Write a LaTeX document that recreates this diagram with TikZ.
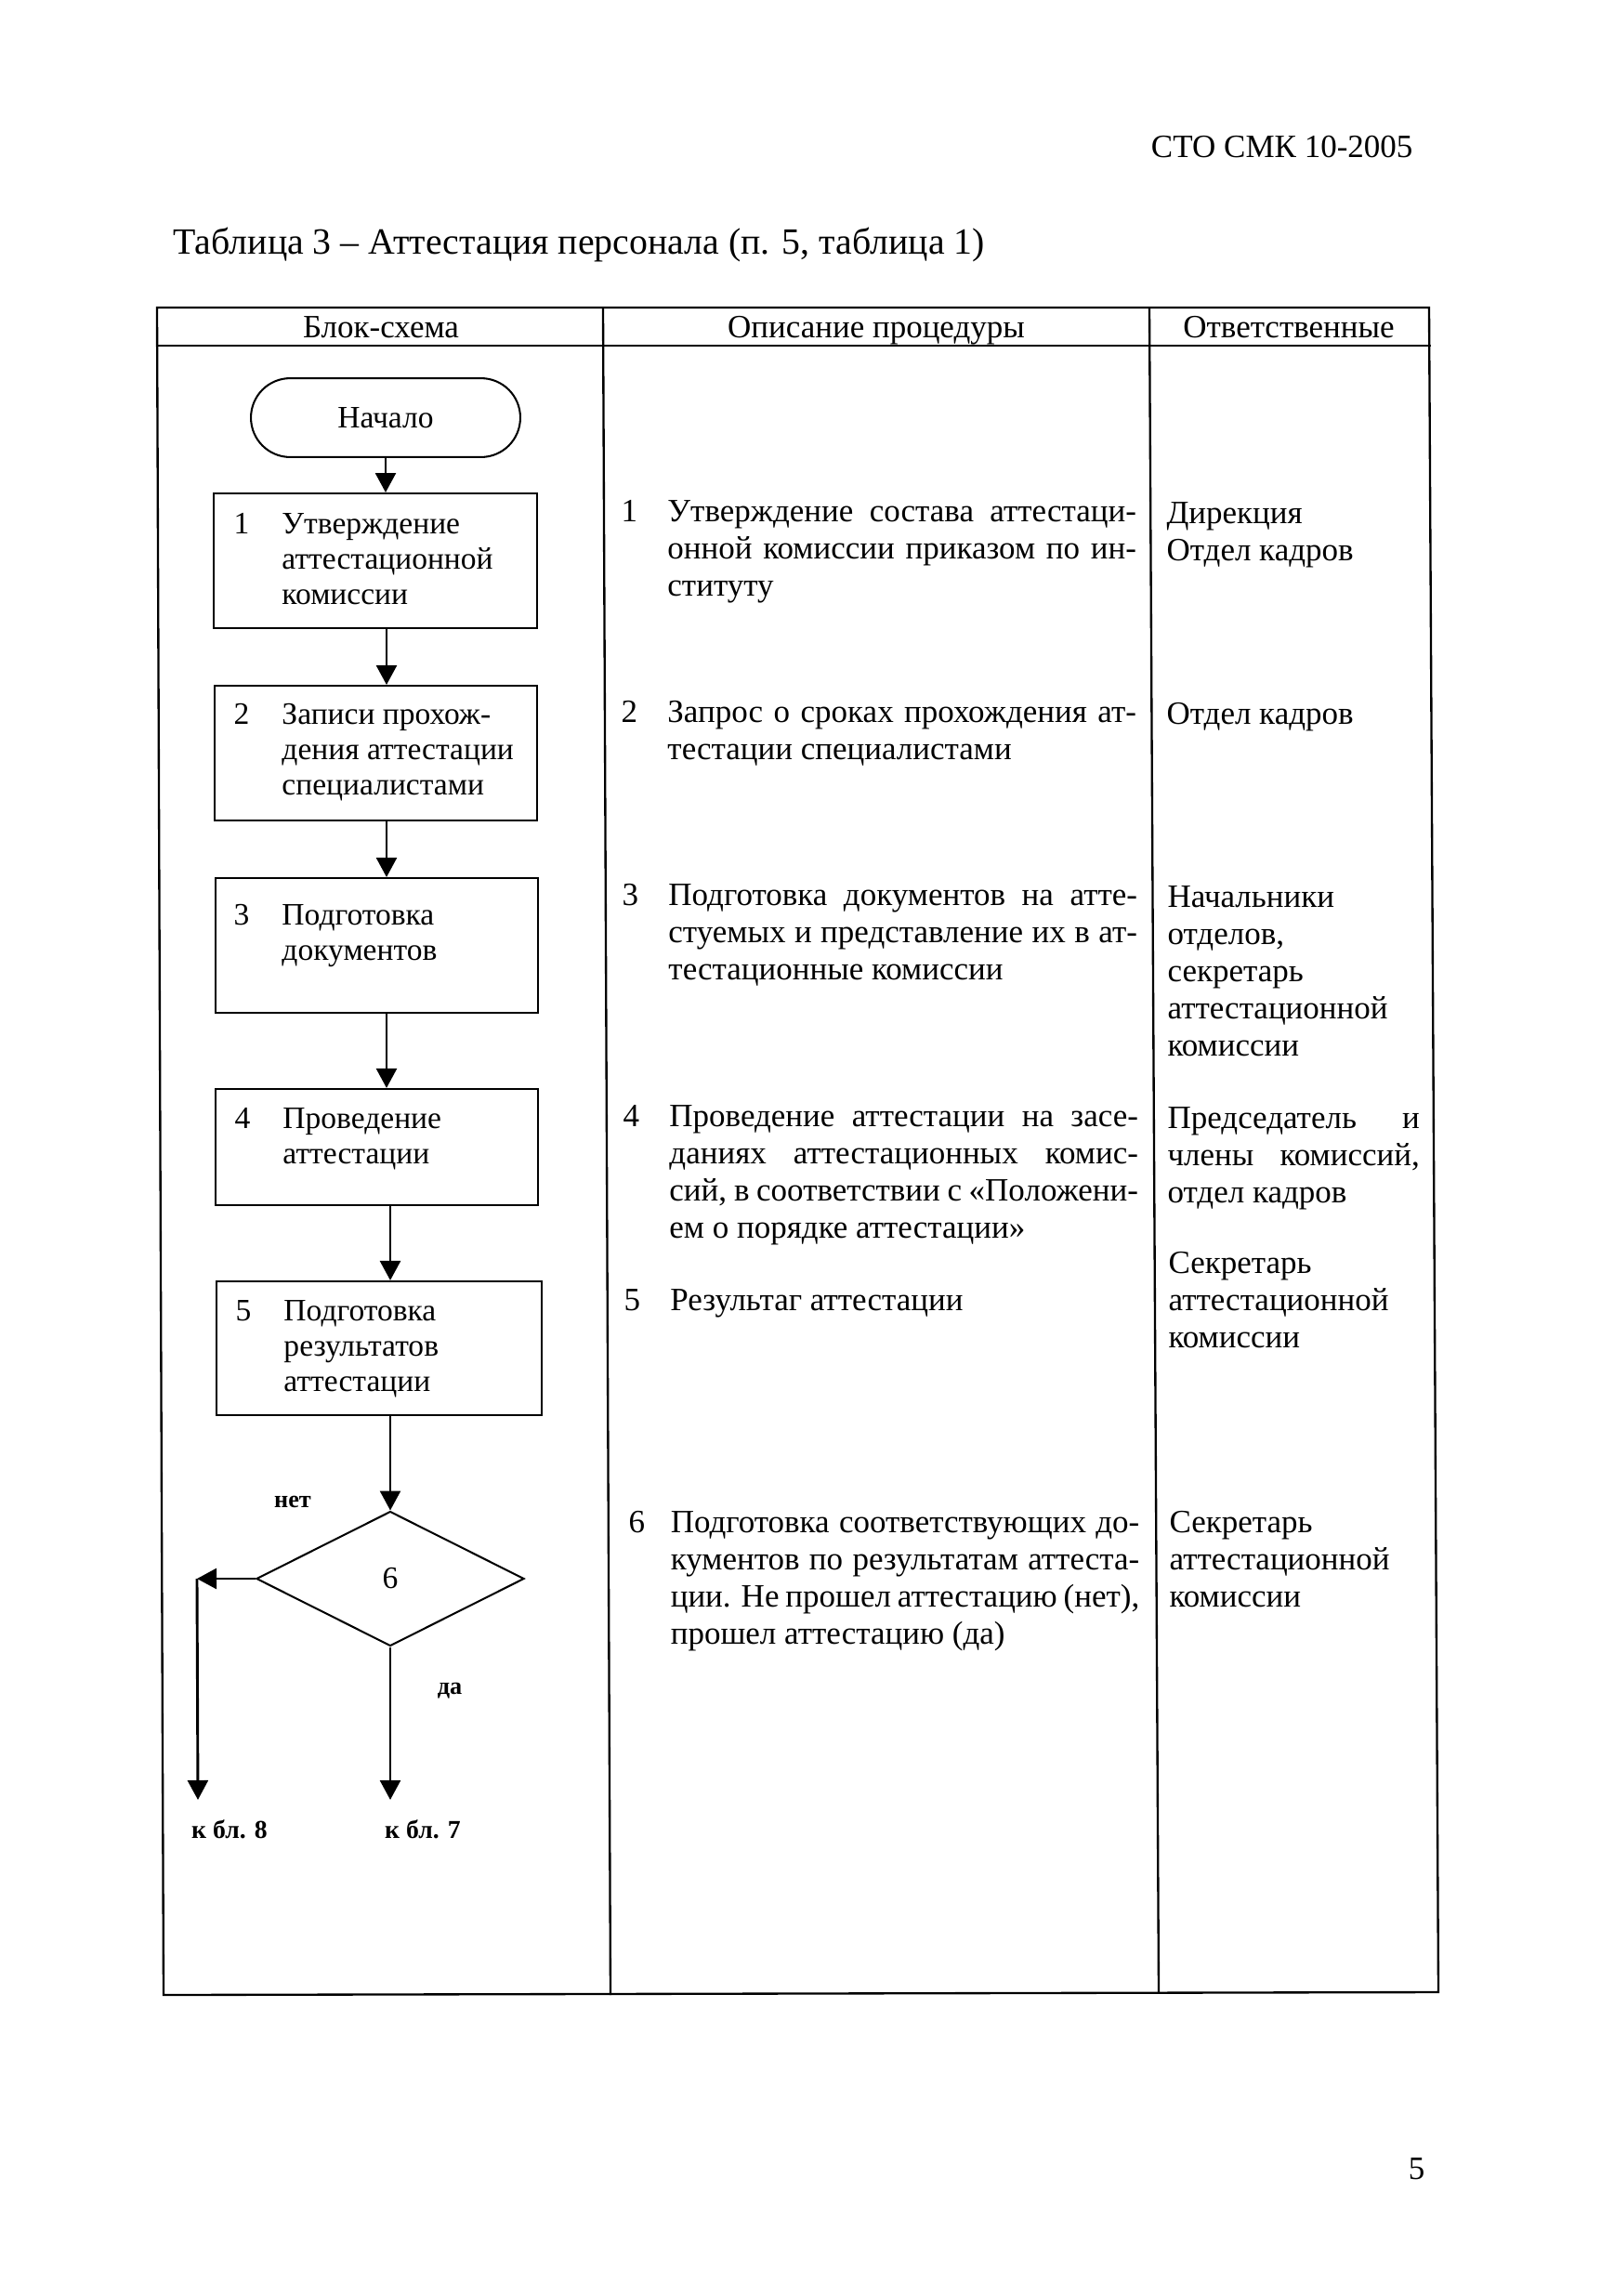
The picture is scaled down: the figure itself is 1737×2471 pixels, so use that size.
\documentclass[tikz,border=0pt]{standalone}
\usepackage{fontspec}
\setmainfont{Liberation Serif}
\usetikzlibrary{arrows.meta,shapes.geometric}
\newcommand\Jt[1]{\makebox[173pt][s]{#1}}
\newcommand\Jr[1]{\makebox[93pt][s]{#1}}
\begin{document}
\begin{tikzpicture}[x=0.3429pt,y=-0.3429pt,
  tbl/.style={line width=0.8pt},
  fbox/.style={draw,line width=0.7pt,inner sep=0,minimum width=119.3pt},
  arr/.style={line width=1pt,-{Triangle[width=7.5pt,length=7.2pt]}},
  ctext/.style={anchor=north west,inner sep=0,font=\fontsize{12}{13.7}\selectfont},
  btext/.style={anchor=north west,inner sep=0,font=\fontsize{11.5}{12.9}\selectfont},
  lbl/.style={inner sep=0,anchor=base,font=\bfseries\fontsize{9}{10}\selectfont},
  plain/.style={inner sep=0,anchor=base,font=\fontsize{12}{13.7}\selectfont}]

\fill[white] (0,0) rectangle (1737,2471);
\useasboundingbox (0,0) rectangle (1737,2471);

% page header and title
\node[plain,anchor=base east] (doc) at (1521,169) {СТО СМК 10-2005};
\node[inner sep=0,anchor=base west,font=\fontsize{13.65}{16}\selectfont] (title) at (186,273) {Таблица 3 – Аттестация персонала (п. 5, таблица 1)};
\node[plain,anchor=base east] (page) at (1534,2345) {5};

% table
\draw[tbl] (169,331) -- (1538,331) -- (1548,2144) -- (176,2147) -- cycle;
\draw[tbl] (169,372) -- (1540,372);
\draw[tbl] (649,331) -- (657,2147);
\draw[tbl] (1237,331) -- (1247,2144);
\node[plain] (h1) at (410,363) {Блок-схема};
\node[plain] (h2) at (943,363) {Описание процедуры};
\node[plain] (h3) at (1387,363) {Ответственные};

% flowchart
\node[draw,line width=0.7pt,rounded corners=14.5pt,minimum width=99.4pt,minimum height=29.1pt,inner sep=0,font=\fontsize{11.5}{12.9}\selectfont] (start) at (415,449.5) {Начало};
\node[fbox,minimum height=49.7pt] (b1) at (404,603.5) {};
\node[fbox,minimum height=49.7pt] (b2) at (404.5,810.5) {};
\node[fbox,minimum height=49.7pt] (b3) at (405.5,1017.5) {};
\node[fbox,minimum height=42.9pt] (b4) at (405.5,1234.5) {};
\node[fbox,minimum width=120pt,minimum height=49.4pt] (b5) at (408,1451) {};
\node[draw,diamond,aspect=1.99,minimum width=98.8pt,minimum height=49.7pt,inner sep=0,line width=0.7pt,font=\fontsize{11.5}{12.9}\selectfont] (d6) at (420,1699) {6};

\node[btext] (bt1) at (251,548) {\begin{tabular}{@{}p{17.8pt}@{}l@{}}1 & Утверждение\\ & аттестационной\\ & комиссии\end{tabular}};
\node[btext] (bt2) at (251,753) {\begin{tabular}{@{}p{17.8pt}@{}l@{}}2 & Записи прохож-\\ & дения аттестации\\ & специалистами\end{tabular}};
\node[btext] (bt3) at (251,969) {\begin{tabular}{@{}p{17.8pt}@{}l@{}}3 & Подготовка\\ & документов\end{tabular}};
\node[btext] (bt4) at (252,1188) {\begin{tabular}{@{}p{17.8pt}@{}l@{}}4 & Проведение\\ & аттестации\end{tabular}};
\node[btext] (bt5) at (253,1395) {\begin{tabular}{@{}p{17.8pt}@{}l@{}}5 & Подготовка\\ & результатов\\ & аттестации\end{tabular}};

\coordinate (ax) at (416,0);
\coordinate (nl) at (212,1699);
\coordinate (nb) at (213,1937);
\coordinate (yb) at (421,1937);
\draw[arr] (start.south) -- (start.south |- b1.north);
\draw[arr] (b1.south -| ax) -- (b2.north -| ax);
\draw[arr] (b2.south -| ax) -- (b3.north -| ax);
\draw[arr] (b3.south -| ax) -- (b4.north -| ax);
\draw[arr] (b4.south -| d6.north) -- (b5.north -| d6.north);
\draw[arr] (b5.south -| d6.north) -- (d6.north);
\draw[arr] (d6.west) -- (nl);
\draw[arr] (nl) -- (nb);
\draw[arr] (d6.south) -- (d6.south |- yb);

\node[lbl] (no) at (315,1622) {нет};
\node[lbl] (yes) at (484,1823) {да};
\node[lbl,font=\bfseries\fontsize{9.5}{11}\selectfont] (k8) at (247,1978) {к бл. 8};
\node[lbl,font=\bfseries\fontsize{9.5}{11}\selectfont] (k7) at (455,1978) {к бл. 7};

% description column
\node[ctext] (t1) at (668,533) {\begin{tabular}{@{}p{17.1pt}@{}l@{}}1 & \Jt{Утверждение состава аттестаци-}\\ & \Jt{онной комиссии приказом по ин-}\\ & ституту\end{tabular}};
\node[ctext] (t2) at (668,749) {\begin{tabular}{@{}p{17.1pt}@{}l@{}}2 & \Jt{Запрос о сроках прохождения ат-}\\ & тестации специалистами\end{tabular}};
\node[ctext] (t3) at (669,946) {\begin{tabular}{@{}p{17.1pt}@{}l@{}}3 & \Jt{Подготовка документов на атте-}\\ & \Jt{стуемых и представление их в ат-}\\ & тестационные комиссии\end{tabular}};
\node[ctext] (t4) at (670,1184) {\begin{tabular}{@{}p{17.1pt}@{}l@{}}4 & \Jt{Проведение аттестации на засе-}\\ & \Jt{даниях аттестационных комис-}\\ & \Jt{сий, в соответствии с «Положени-}\\ & ем о порядке аттестации»\end{tabular}};
\node[ctext] (t5) at (671,1382) {\begin{tabular}{@{}p{17.1pt}@{}l@{}}5 & Результаг аттестации\end{tabular}};
\node[ctext] (t6) at (676,1621) {\begin{tabular}{@{}p{15.5pt}@{}l@{}}6 & \Jt{Подготовка соответствующих до-}\\ & \Jt{кументов по результатам аттеста-}\\ & \Jt{ции. Не прошел аттестацию (нет),}\\ & прошел аттестацию (да)\end{tabular}};

% responsible column
\node[ctext] (r1) at (1255,535) {\begin{tabular}{@{}l@{}}Дирекция\\ Отдел кадров\end{tabular}};
\node[ctext] (r2) at (1255,751) {\begin{tabular}{@{}l@{}}Отдел кадров\end{tabular}};
\node[ctext] (r3) at (1256,948) {\begin{tabular}{@{}l@{}}Начальники\\ отделов,\\ секретарь\\ аттестационной\\ комиссии\end{tabular}};
\node[ctext] (r4) at (1256,1186) {\begin{tabular}{@{}l@{}}\Jr{Председатель и}\\ \Jr{члены комиссий,}\\ отдел кадров\end{tabular}};
\node[ctext] (r5) at (1257,1342) {\begin{tabular}{@{}l@{}}Секретарь\\ аттестационной\\ комиссии\end{tabular}};
\node[ctext] (r6) at (1258,1621) {\begin{tabular}{@{}l@{}}Секретарь\\ аттестационной\\ комиссии\end{tabular}};
\end{tikzpicture}
\end{document}
